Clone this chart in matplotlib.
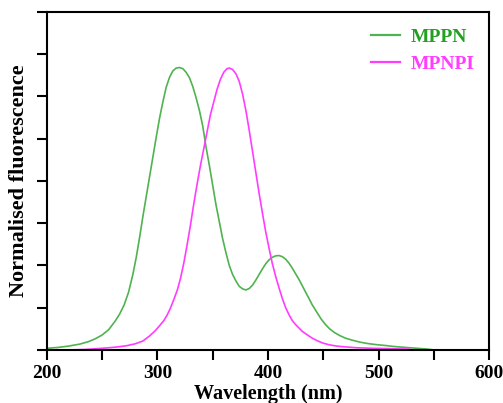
import matplotlib
matplotlib.use("Agg")
import matplotlib.pyplot as plt
from matplotlib.ticker import MultipleLocator, NullFormatter

# Data
mppn_wl = [200, 210, 220, 230, 238, 244, 250, 256, 262, 266, 270, 274, 278, 281, 284, 287, 290,
           293, 296, 299, 302, 305, 308, 311, 314, 317, 320, 323, 326, 329, 332, 335, 338, 341,
           344, 347, 350, 353, 356, 359, 362, 365, 368, 371, 374, 377, 380, 383, 386, 389, 392,
           395, 398, 401, 404, 407, 410, 413, 416, 419, 422, 425, 428, 431, 434, 437, 440, 444,
           448, 452, 456, 460, 465, 470, 476, 483, 490, 498, 506, 515, 525, 535, 545, 550]
mppn_val = [0.006, 0.009, 0.014, 0.021, 0.030, 0.040, 0.053, 0.072, 0.103, 0.128, 0.160, 0.205,
            0.270, 0.330, 0.400, 0.475, 0.545, 0.615, 0.685, 0.755, 0.822, 0.880, 0.932, 0.967,
            0.990, 1.000, 1.002, 0.998, 0.985, 0.966, 0.935, 0.895, 0.850, 0.795, 0.720, 0.655,
            0.585, 0.515, 0.455, 0.395, 0.345, 0.300, 0.268, 0.245, 0.226, 0.217, 0.213, 0.218,
            0.230, 0.248, 0.268, 0.288, 0.306, 0.320, 0.329, 0.334, 0.335, 0.331, 0.322, 0.308,
            0.290, 0.270, 0.250, 0.228, 0.205, 0.183, 0.160, 0.135, 0.110, 0.090, 0.074, 0.062,
            0.051, 0.042, 0.035, 0.028, 0.023, 0.019, 0.016, 0.012, 0.009, 0.006, 0.003, 0.0]
mpnpi_wl = [220, 235, 250, 262, 272, 280, 287, 293, 298, 302, 306, 309, 312, 315, 318, 321, 324,
            327, 330, 333, 336, 339, 342, 345, 348, 351, 354, 357, 360, 363, 365, 368, 371, 374,
            377, 380, 383, 386, 389, 392, 395, 398, 401, 404, 407, 410, 413, 416, 419, 422, 425,
            428, 431, 435, 440, 445, 450, 456, 462, 470, 480, 495, 510, 528]
mpnpi_val = [0.0, 0.002, 0.006, 0.010, 0.015, 0.022, 0.032, 0.050, 0.068, 0.086, 0.105, 0.125,
             0.150, 0.180, 0.212, 0.255, 0.310, 0.375, 0.445, 0.520, 0.590, 0.655, 0.715, 0.775,
             0.835, 0.880, 0.925, 0.960, 0.985, 0.998, 1.000, 0.995, 0.980, 0.953, 0.908, 0.850,
             0.780, 0.705, 0.630, 0.555, 0.485, 0.418, 0.360, 0.305, 0.260, 0.220, 0.182, 0.150,
             0.125, 0.104, 0.090, 0.078, 0.066, 0.055, 0.042, 0.032, 0.024, 0.018, 0.014, 0.011,
             0.008, 0.006, 0.005, 0.003]
labels = ["MPPN", "MPNPI"]

plt.rcParams['font.family'] = ['Liberation Serif', 'DejaVu Serif']

fig = plt.figure(figsize=(5.03, 4.03), dpi=100)
ax = fig.add_axes([0.0928, 0.1315, 0.880, 0.8395])

green = '#4fb34f'
magenta = '#ff3cff'
l1, = ax.plot(mppn_wl, mppn_val, color=green, lw=1.2, label=labels[0])
l2, = ax.plot(mpnpi_wl, mpnpi_val, color=magenta, lw=1.2, label=labels[1])

ax.set_xlim(200, 600)
ax.set_ylim(0, 1.2)
ax.xaxis.set_major_locator(MultipleLocator(100))
ax.xaxis.set_minor_locator(MultipleLocator(50))
ax.yaxis.set_major_locator(MultipleLocator(0.15))
ax.yaxis.set_major_formatter(NullFormatter())
ax.tick_params(axis='both', which='both', direction='out', length=7, width=1.5,
               top=False, right=False)
ax.tick_params(axis='x', labelsize=14, pad=4)
for lab in ax.get_xticklabels():
    lab.set_fontweight('bold')
for s in ax.spines.values():
    s.set_linewidth(1.5)

ax.set_xlabel('Wavelength (nm)', fontsize=14.5, fontweight='bold', labelpad=1)
ax.set_ylabel('Normalised fluorescence', fontsize=16, fontweight='bold', labelpad=2)

leg = ax.legend(handles=[l1, l2], loc='upper left', frameon=False,
                prop={'weight': 'bold', 'size': 14, 'family': 'Liberation Serif'},
                handlelength=1.5, handletextpad=0.55, labelspacing=0.45,
                borderaxespad=0, borderpad=0,
                bbox_to_anchor=(0.733, 0.95))
leg.get_texts()[0].set_color('#22a022')
leg.get_texts()[1].set_color(magenta)
for h in leg.legend_handles:
    h.set_linewidth(1.6)

fig.savefig('out.png', dpi=100)
